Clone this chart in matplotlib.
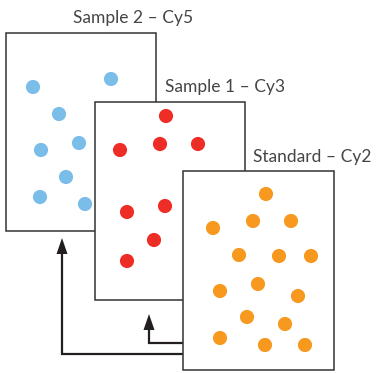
import matplotlib
matplotlib.use("Agg")
import matplotlib.pyplot as plt
from matplotlib.patches import Rectangle, Polygon

W, H = 376, 373

# panels: left, top, right, bottom (pixels)
panel_names = ["Sample 2 \u2013 Cy5", "Sample 1 \u2013 Cy3", "Standard \u2013 Cy2"]
panel_boxes = [(6, 33, 156, 231), (95, 102, 245, 300), (183, 171, 334, 370)]
label_pos = [(73, 18), (165, 87), (253, 157)]
dot_colors = ["#7abde8", "#ee2e26", "#f7981f"]

# spots in each gel
cy5_x = [33, 111, 59, 41, 79, 66, 40, 85]
cy5_y = [87, 79, 114, 150, 143, 177, 197, 204]
cy3_x = [166, 120, 160, 198, 127, 165, 154, 127]
cy3_y = [116, 150, 144, 144, 212, 206, 240, 261]
cy2_x = [266, 213, 253, 291, 239, 279, 311, 220, 258, 298, 247, 285, 220, 265, 305]
cy2_y = [194, 228, 221, 221, 255, 256, 256, 291, 284, 296, 317, 324, 338, 345, 345]
spots = [(cy5_x, cy5_y), (cy3_x, cy3_y), (cy2_x, cy2_y)]

# arrows from standard back to samples
arrow_paths = [[(183, 354), (62, 354), (62, 238)],
               [(183, 343), (149, 343), (149, 314)]]

fig = plt.figure(figsize=(W / 100, H / 100), dpi=100)
ax = fig.add_axes([0, 0, 1, 1])
ax.set_xlim(0, W)
ax.set_ylim(H, 0)
ax.axis("off")

z = 1
for name, box, lp, col, (xs, ys) in zip(panel_names, panel_boxes, label_pos, dot_colors, spots):
    l, t, r, b = box
    ax.add_patch(Rectangle((l, t), r - l, b - t, facecolor="white", edgecolor="#333333", lw=1.1, zorder=z))
    ax.scatter(xs, ys, s=104, color=col, edgecolors="none", zorder=z + 1)
    ax.text(lp[0], lp[1], name, fontsize=12.5, color="#454545", family="Lato", va="center", ha="left", zorder=z + 1)
    z += 2

for path in arrow_paths:
    xs = [p[0] for p in path]
    ys = [p[1] for p in path]
    tipx, tipy = path[-1]
    ax.plot(xs[:-1] + [tipx], ys[:-1] + [tipy + 14], color="#231f20", lw=1.6, solid_joinstyle="miter", zorder=0)
    ax.add_patch(Polygon([(tipx, tipy), (tipx - 5.5, tipy + 16), (tipx + 5.5, tipy + 16)],
                         closed=True, facecolor="#231f20", edgecolor="none", zorder=0))

fig.savefig("out.png", dpi=100)
